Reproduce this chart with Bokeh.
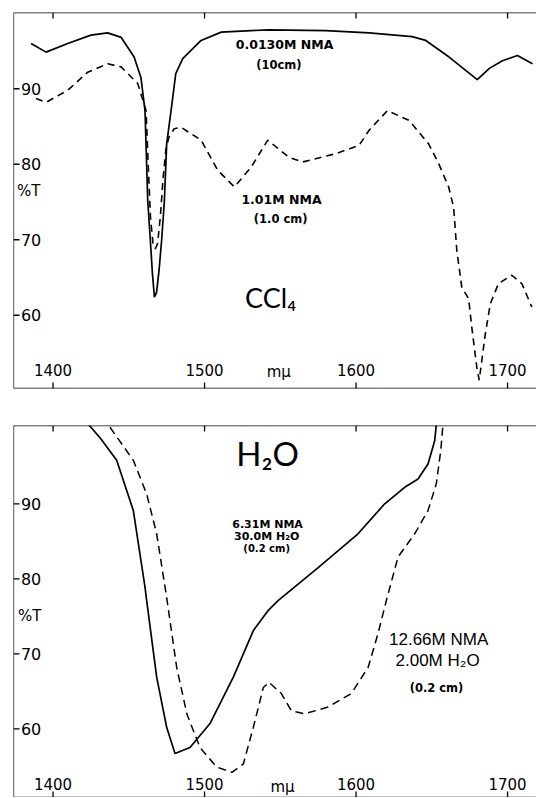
from bokeh.plotting import figure
from bokeh.layouts import column
from bokeh.models import Range1d, Span
from bokeh.core.properties import value
from bokeh.embed import file_html
from bokeh.resources import INLINE

# ---------------- data ----------------
x_ticks = [1400, 1500, 1600, 1700]
x_tick_labels = ["1400", "1500", "1600", "1700"]
y_ticks = [60, 70, 80, 90]
y_tick_labels = ["60", "70", "80", "90"]

# CCl4 panel, 0.0130 M NMA (10 cm) - solid
ccl4_dil_wl = [1385.5, 1395.4, 1409.7, 1425, 1436, 1445, 1453.5, 1458, 1460.7, 1462.5,
               1464.2, 1465.6, 1466.9, 1468.3, 1470, 1471.7, 1473.5, 1475, 1477.9, 1481,
               1485.6, 1497.7, 1511, 1530.7, 1542.6, 1580, 1608.6, 1637, 1646, 1661.4,
               1680, 1688, 1696.6, 1706.5, 1716.4]
ccl4_dil_T = [96.0, 94.85, 96.0, 97.1, 97.4, 96.8, 94.2, 91.5, 87.1, 75.2,
              70.0, 65.5, 62.4, 63.0, 66.0, 70.0, 75.2, 82.7, 87.1, 92.0,
              94.0, 96.4, 97.5, 97.7, 97.8, 97.7, 97.4, 96.9, 96.4, 94.2,
              91.2, 92.7, 93.7, 94.4, 93.3]

# CCl4 panel, 1.01 M NMA (1.0 cm) - dashed
ccl4_conc_wl = [1388.8, 1395.4, 1409.7, 1422.9, 1436.1, 1444.9, 1455.9, 1461.4, 1462.8, 1464.3,
                1466, 1467.5, 1469, 1470.8, 1472.6, 1474.5, 1476.5, 1480, 1484.4, 1497.7,
                1508.7, 1519.7, 1530.7, 1541.7, 1555.8, 1564.6, 1586.6, 1602, 1608.6, 1620.7,
                1635, 1647.9, 1654.5, 1661.1, 1664.4, 1666.5, 1669.8, 1674.3, 1676.4, 1679.7,
                1681.3, 1685.3, 1688.6, 1694, 1702.8, 1709.4, 1716]
ccl4_conc_T = [88.7, 88.2, 89.8, 92.2, 93.3, 92.9, 90.7, 87.1, 80.0, 73.0,
               69.5, 68.8, 69.5, 73.0, 78.0, 82.0, 83.6, 84.7, 84.9, 83.2,
               79.2, 77.0, 79.6, 83.2, 80.9, 80.3, 81.4, 82.5, 84.5, 87.1,
               85.8, 82.7, 80.1, 77.0, 74.3, 68.6, 63.7, 62.2, 58.4, 53.1,
               51.4, 57.5, 61.5, 64.2, 65.3, 64.2, 61.1]

# H2O panel, 6.31 M NMA, 30.0 M H2O (0.2 cm) - solid
h2o_a_wl = [1423.3, 1431.4, 1442, 1453, 1460.7, 1461.8, 1468.4, 1475, 1480.5, 1490.4,
            1503.6, 1519, 1532.2, 1542.1, 1548.5, 1575, 1601.3, 1618.9, 1632.1, 1640.9,
            1647.5, 1651.9, 1653]
h2o_a_T = [100.6, 98.7, 95.8, 89.1, 78.9, 77.1, 66.9, 60.2, 56.7, 57.5,
           60.7, 66.9, 73.1, 75.8, 77.1, 81.5, 86.0, 90.0, 92.2, 93.3,
           95.3, 98.4, 100.6]

# H2O panel, 12.66 M NMA, 2.00 M H2O (0.2 cm) - dashed
h2o_b_wl = [1437.6, 1453, 1461.8, 1468.4, 1475, 1481.6, 1488.3, 1497, 1508, 1518,
            1525.6, 1532.2, 1538.8, 1542.5, 1550.7, 1557.3, 1566.1, 1581.5, 1596.9, 1608,
            1614.5, 1620, 1627.7, 1638.7, 1647.5, 1653, 1655.9, 1657.4]
h2o_b_T = [100.2, 95.8, 91.3, 86.0, 77.5, 68.2, 62.0, 57.5, 54.9, 54.2,
           55.3, 60.2, 65.5, 66.2, 64.7, 62.4, 62.0, 62.9, 64.7, 68.2,
           72.7, 77.1, 82.9, 86.0, 89.1, 92.7, 97.1, 100.6]

NUM_FONT = value("DejaVu Sans")
LBL_FONT = value("DejaVu Sans")
BIG_FONT = value("Lato")

X_RANGE = (1373.9, 1719.1)
TICK_X_LEN = 4.0     # inward tick length in x data units
TICK_Y_LEN = 0.8     # inward tick length in y data units


def make_panel(height, y_rng, mb_top, mb_bottom, xlab_y):
    p = figure(width=536, height=height,
               x_range=Range1d(*X_RANGE), y_range=Range1d(*y_rng),
               output_backend="svg", toolbar_location=None,
               x_axis_location=None, y_axis_location=None,
               min_border_left=13, min_border_right=0,
               min_border_top=mb_top, min_border_bottom=mb_bottom,
               background_fill_color="white", border_fill_color="white")
    p.outline_line_color = None
    p.grid.grid_line_color = None
    # frame borders: left, top, bottom
    p.add_layout(Span(location=X_RANGE[0], dimension="height", line_color="black", line_width=1.3))
    p.add_layout(Span(location=y_rng[1], dimension="width", line_color="black", line_width=1.3))
    p.add_layout(Span(location=y_rng[0], dimension="width", line_color="black", line_width=1.3))
    # inward ticks
    n = len(x_ticks)
    p.segment(x0=x_ticks, x1=x_ticks, y0=[y_rng[1]] * n, y1=[y_rng[1] - TICK_Y_LEN] * n,
              line_color="black", line_width=1.3)
    p.segment(x0=x_ticks, x1=x_ticks, y0=[y_rng[0]] * n, y1=[y_rng[0] + TICK_Y_LEN] * n,
              line_color="black", line_width=1.3)
    m = len(y_ticks)
    p.segment(x0=[X_RANGE[0]] * m, x1=[X_RANGE[0] + TICK_X_LEN] * m, y0=y_ticks, y1=y_ticks,
              line_color="black", line_width=1.3)
    # tick labels drawn inside the frame
    p.text(x=[1378.8] * m, y=y_ticks, text=y_tick_labels, text_font=NUM_FONT,
           text_font_size="16px", text_align="left", text_baseline="middle", text_color="black")
    p.text(x=x_ticks, y=[xlab_y] * n, text=x_tick_labels, text_font=NUM_FONT,
           text_font_size="15px", text_align="center", text_baseline="middle", text_color="black")
    return p


# ---------------- top panel: CCl4 ----------------
p1 = make_panel(406, (50.3, 100.1), 12, 18, 52.7)
p1.line(ccl4_dil_wl, ccl4_dil_T, line_color="black", line_width=1.7)
p1.line(ccl4_conc_wl, ccl4_conc_T, line_color="black", line_width=1.6, line_dash="7 5")
p1.text(x=[1376.2], y=[76.5], text=["%T"], text_font=NUM_FONT, text_font_size="15px",
        text_align="left", text_baseline="middle", text_color="black")
p1.text(x=[1549.0], y=[52.5], text=["mμ"], text_font=NUM_FONT, text_font_size="15px",
        text_align="center", text_baseline="middle", text_color="black")
p1.text(x=[1552.8, 1550.8], y=[95.9, 75.3], text=["0.0130M NMA", "1.01M NMA"], text_font=LBL_FONT,
        text_font_size="12.5px", text_font_style="bold", text_align="center", text_baseline="middle",
        text_color="black")
p1.text(x=[1549.0, 1550.2], y=[93.1, 72.7], text=["(10cm)", "(1.0 cm)"], text_font=LBL_FONT,
        text_font_size="11.5px", text_font_style="bold", text_align="center", text_baseline="middle",
        text_color="black")
p1.text(x=[1543.6], y=[62.4], text=["CCl₄"], text_font=BIG_FONT, text_font_size="27px",
        text_align="center", text_baseline="middle", text_color="black")

# ---------------- bottom panel: H2O ----------------
p2 = make_panel(391, (50.84, 100.44), 19, 0, 52.7)
p2.line(h2o_a_wl, h2o_a_T, line_color="black", line_width=1.7)
p2.line(h2o_b_wl, h2o_b_T, line_color="black", line_width=1.5, line_dash="8 5")
p2.text(x=[1376.8], y=[75.1], text=["%T"], text_font=NUM_FONT, text_font_size="15px",
        text_align="left", text_baseline="middle", text_color="black")
p2.text(x=[1551.5], y=[52.3], text=["mμ"], text_font=NUM_FONT, text_font_size="15px",
        text_align="center", text_baseline="middle", text_color="black")
p2.text(x=[1541.6], y=[96.8], text=["H₂O"], text_font=BIG_FONT, text_font_size="33px",
        text_align="center", text_baseline="middle", text_color="black")
p2.text(x=[1541.6, 1541.0], y=[87.2, 85.6], text=["6.31M NMA", "30.0M H₂O"], text_font=LBL_FONT,
        text_font_size="11px", text_font_style="bold", text_align="center", text_baseline="middle",
        text_color="black")
p2.text(x=[1541.0], y=[84.0], text=["(0.2 cm)"], text_font=LBL_FONT,
        text_font_size="10px", text_font_style="bold", text_align="center", text_baseline="middle",
        text_color="black")
p2.text(x=[1654.5, 1653.8], y=[71.9, 69.1], text=["12.66M NMA", "2.00M H₂O"], text_font=value("Liberation Sans"),
        text_font_size="17px", text_align="center", text_baseline="middle", text_color="black")
p2.text(x=[1653.1], y=[65.5], text=["(0.2 cm)"], text_font=LBL_FONT,
        text_font_size="11.5px", text_font_style="bold", text_align="center", text_baseline="middle",
        text_color="black")

layout = column(p1, p2, spacing=0)
open("out.html", "w").write(file_html(layout, INLINE))
